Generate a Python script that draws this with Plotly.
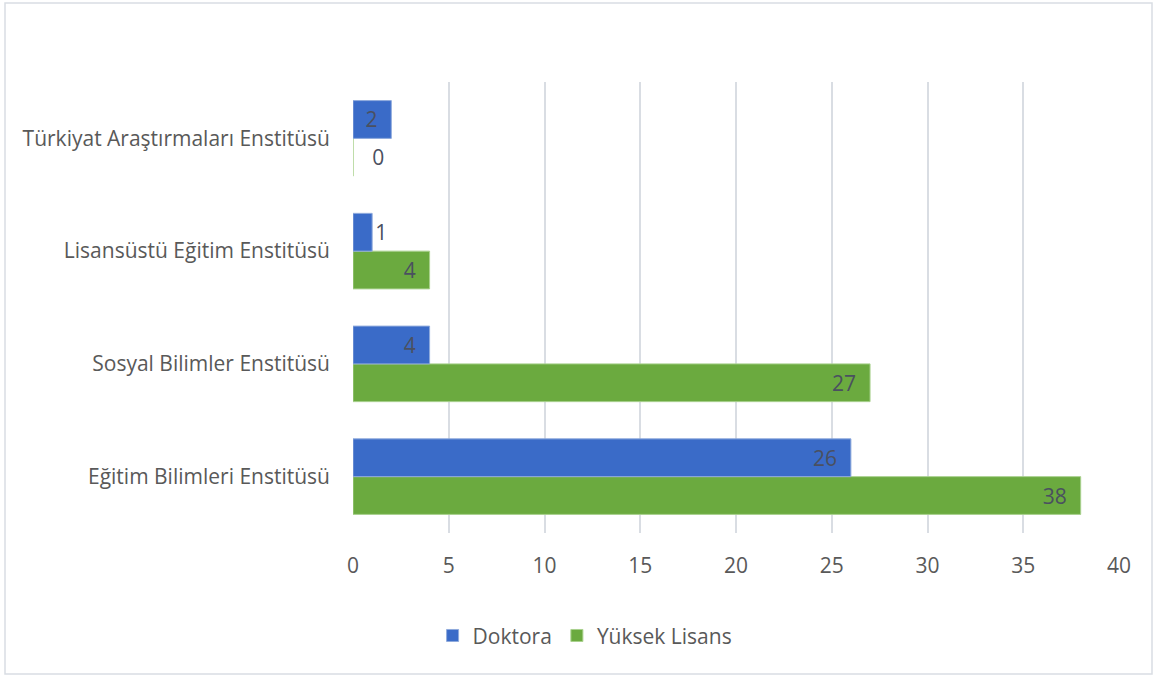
import plotly.graph_objects as go

categories = ["Eğitim Bilimleri Enstitüsü", "Sosyal Bilimler Enstitüsü",
              "Lisansüstü Eğitim Enstitüsü", "Türkiyat Araştırmaları Enstitüsü"]
doktora = [26, 4, 1, 2]
yuksek_lisans = [38, 27, 4, 0]
x_ticks = [0, 5, 10, 15, 20, 25, 30, 35, 40]

FONT = "Open Sans"
TXT = "#595959"
FS = 21

def positions(vals):
    return ["inside" if v >= 2 else "outside" for v in vals]

def labels(vals):
    out = []
    for v in vals:
        if v >= 2:
            out.append(f"{v}\u00a0\u00a0")
        elif v == 0:
            out.append(f"\u00a0\u00a0\u00a0{v}")
        else:
            out.append(str(v))
    return out

fig = go.Figure()
fig.add_trace(go.Bar(
    y=categories, x=yuksek_lisans, name="Yüksek Lisans", orientation="h",
    marker=dict(color="#6BAA3F", line=dict(color="#A9D18E", width=1)),
    text=labels(yuksek_lisans), textposition=positions(yuksek_lisans),
    insidetextanchor="end", cliponaxis=False,
    textfont=dict(family=FONT, size=FS, color="#4A5060"),
))
fig.add_trace(go.Bar(
    y=categories, x=doktora, name="Doktora", orientation="h",
    marker=dict(color="#3A6BC8", line=dict(color="#8FAADC", width=1)),
    text=labels(doktora), textposition=positions(doktora),
    insidetextanchor="end", cliponaxis=False,
    textfont=dict(family=FONT, size=FS, color="#4A5060"),
))

fig.update_layout(
    width=1158, height=677,
    margin=dict(l=353, r=39, t=82, b=144),
    paper_bgcolor="white", plot_bgcolor="white",
    barmode="group", bargap=0.33, bargroupgap=0,
    font=dict(family=FONT, size=FS, color=TXT),
    showlegend=True,
    legend=dict(orientation="h", x=0.303, xanchor="center", y=-0.228, yanchor="middle",
                traceorder="reversed", font=dict(family=FONT, size=FS, color=TXT),
                itemwidth=30),
    xaxis=dict(range=[0, 40], tickvals=x_ticks, showgrid=True, gridcolor="#D9DDE3",
               gridwidth=1.5, zeroline=False, showline=False, ticks="",
               ticklabelstandoff=18, tickfont=dict(family=FONT, size=FS, color=TXT)),
    yaxis=dict(type="category", categoryorder="array", categoryarray=categories,
               showgrid=False, zeroline=False, showline=False, ticks="",
               ticklabelstandoff=22, tickfont=dict(family=FONT, size=FS, color=TXT)),
    shapes=[dict(type="rect", xref="paper", yref="paper",
                 x0=(5 - 353) / 766, x1=(1152 - 353) / 766,
                 y0=(533 - 674) / 451, y1=(533 - 3) / 451,
                 line=dict(color="#D9DDE3", width=1.5), fillcolor="rgba(0,0,0,0)",
                 layer="below")],
)

fig.write_html("out.html")
